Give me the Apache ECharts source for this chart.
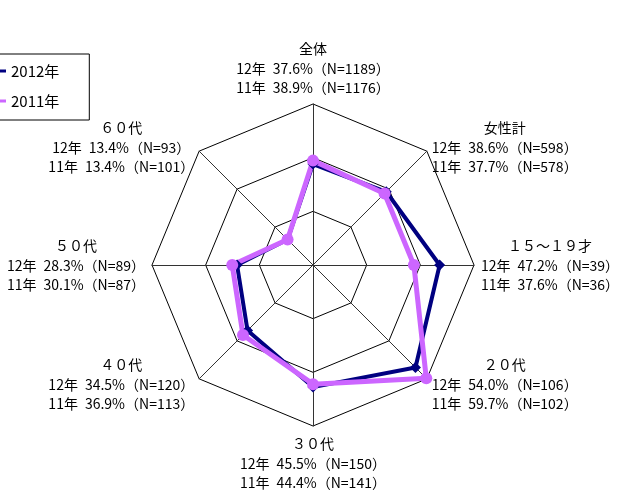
<!DOCTYPE html>
<html>
<head>
<meta charset="utf-8">
<script src="https://cdn.jsdelivr.net/npm/echarts@6/dist/echarts.min.js"></script>
<style>
  html, body { margin: 0; padding: 0; background: #fff; }
  #main { width: 627px; height: 493px; }
</style>
</head>
<body>
<div id="main"></div>
<script>
// categories, clockwise from the top
var categories = ['全体', '女性計', '１５～１９才', '２０代', '３０代', '４０代', '５０代', '６０代'];
var values2012 = [37.6, 38.6, 47.2, 54.0, 45.5, 34.5, 28.3, 13.4];
var values2011 = [38.9, 37.7, 37.6, 59.7, 44.4, 36.9, 30.1, 13.4];
var n2012 = [1189, 598, 39, 106, 150, 120, 89, 93];
var n2011 = [1176, 578, 36, 102, 141, 113, 87, 101];
var seriesNames = ['2012年', '2011年'];
var axisMax = 60;

var navy = '#000080';
var violet = '#cc66ff';
var font = '"Noto Sans CJK JP", sans-serif';

// echarts lays radar indicators counter-clockwise, so flip the order after the first
var order = [0, 7, 6, 5, 4, 3, 2, 1];
function reorder(arr) {
  return order.map(function (i) { return arr[i]; });
}

var indicators = categories.map(function (c, i) {
  return {
    name: c + '\n12年\u2002' + values2012[i].toFixed(1) + '%（N=' + n2012[i] + '）' +
      '\n11年\u2002' + values2011[i].toFixed(1) + '%（N=' + n2011[i] + '）',
    min: 0,
    max: axisMax
  };
});

var myChart = echarts.init(document.getElementById('main'));

var option = {
  animation: false,
  backgroundColor: '#fff',
  legend: {
    orient: 'vertical',
    left: -18,
    top: 54,
    data: seriesNames,
    icon: 'rect',
    itemWidth: 12,
    itemHeight: 3,
    itemGap: 14,
    itemStyle: { borderWidth: 0 },
    padding: [9, 30, 11, 12],
    borderColor: '#000',
    borderWidth: 1,
    borderRadius: 0,
    textStyle: { color: '#000', fontSize: 15, fontFamily: font, lineHeight: 16 }
  },
  radar: {
    center: [313, 265],
    radius: 161,
    startAngle: 90,
    splitNumber: 3,
    shape: 'polygon',
    indicator: reorder(indicators),
    nameGap: 7,
    axisName: {
      color: '#000',
      fontSize: 14,
      fontFamily: font,
      lineHeight: 20,
      formatter: function (name) {
        var lines = name.split('\n');
        return '{t|' + lines[0] + '}\n' + lines.slice(1).map(function (s) { return '{c|' + s + '}'; }).join('\n');
      },
      rich: {
        t: { align: 'center', color: '#000', fontSize: 14, fontFamily: font, lineHeight: 21 },
        c: { align: 'center', color: '#000', fontSize: 14, fontFamily: font, lineHeight: 19 }
      }
    },
    splitLine: { lineStyle: { color: '#000', width: 1 } },
    splitArea: { show: false },
    axisLine: { lineStyle: { color: '#333', width: 1 } },
    axisTick: { show: false },
    axisLabel: { show: false }
  },
  series: [{
    type: 'radar',
    name: seriesNames[0],
    symbol: 'diamond',
    symbolSize: 11,
    lineStyle: { color: navy, width: 4 },
    itemStyle: { color: navy },
    data: [{ name: seriesNames[0], value: reorder(values2012) }]
  }, {
    type: 'radar',
    name: seriesNames[1],
    symbol: 'circle',
    symbolSize: 12,
    lineStyle: { color: violet, width: 5 },
    itemStyle: { color: violet },
    data: [{ name: seriesNames[1], value: reorder(values2011) }]
  }]
};

myChart.setOption(option);
</script>
</body>
</html>
